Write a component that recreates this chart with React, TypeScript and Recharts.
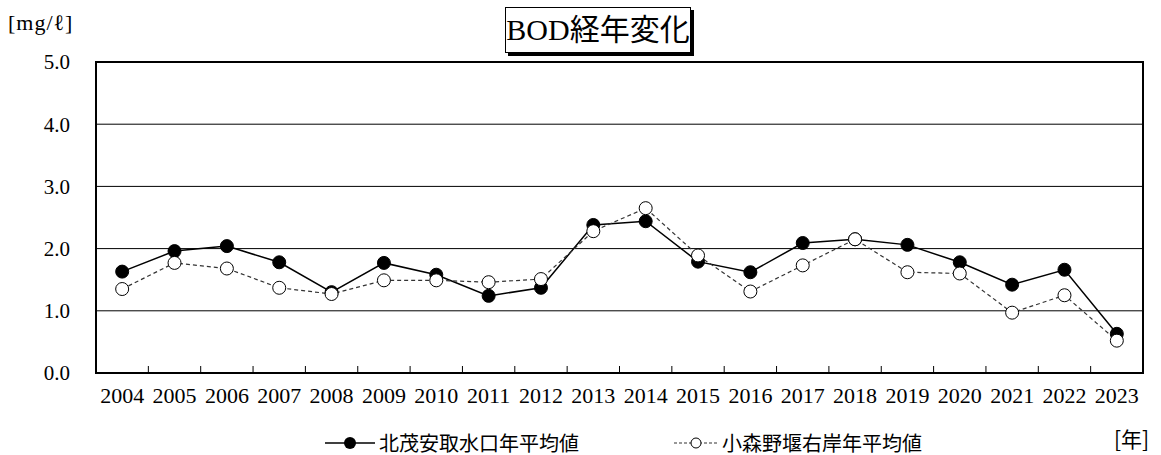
import React from 'react';
import {
  LineChart,
  Line,
  XAxis,
  YAxis,
  CartesianGrid,
  ReferenceArea,
} from 'recharts';

const years = [
  '2004', '2005', '2006', '2007', '2008', '2009', '2010', '2011', '2012', '2013',
  '2014', '2015', '2016', '2017', '2018', '2019', '2020', '2021', '2022', '2023',
];
const kitashigeyasu = [
  1.63, 1.96, 2.04, 1.78, 1.3, 1.77, 1.58, 1.24, 1.37, 2.38,
  2.44, 1.79, 1.62, 2.09, 2.15, 2.06, 1.78, 1.42, 1.66, 0.63,
];
const komorino = [
  1.35, 1.77, 1.68, 1.37, 1.27, 1.49, 1.49, 1.46, 1.51, 2.28,
  2.65, 1.89, 1.31, 1.73, 2.15, 1.62, 1.6, 0.97, 1.25, 0.52,
];
const yTicks = [0, 1, 2, 3, 4, 5];
const seriesNames = ['北茂安取水口年平均値', '小森野堰右岸年平均値'];
const titleText = 'BOD経年変化';
const yUnit = '[mg/ℓ]';
const xUnit = '[年]';

const labelTicks = years.map((_, i) => i + 0.5);
const boundaryTicks = years.slice(1).map((_, i) => i + 1);

const data = years.map((y, i) => ({
  x: i + 0.5,
  year: y,
  a: kitashigeyasu[i],
  b: komorino[i],
}));

const serif = '"Liberation Serif", "Noto Sans CJK JP", serif';
const cjk = '"Noto Sans CJK JP", "Liberation Serif", sans-serif';

export default function App() {
  return (
    <div
      style={{
        position: 'absolute',
        left: 0,
        top: 0,
        width: 1161,
        height: 455,
        background: '#fff',
      }}
    >
      <LineChart
        width={1161}
        height={455}
        data={data}
        margin={{ top: 62, right: 18, bottom: 52, left: 0 }}
      >
        <CartesianGrid horizontal vertical={false} stroke="#000" strokeWidth={1} />
        <XAxis
          xAxisId="ticks"
          type="number"
          dataKey="x"
          domain={[0, 20]}
          ticks={boundaryTicks}
          height={1}
          axisLine={false}
          mirror
          tickSize={7}
          tickLine={{ stroke: '#000', strokeWidth: 1 }}
          tickFormatter={() => ''}
          interval={0}
        />
        <XAxis
          xAxisId="main"
          type="number"
          dataKey="x"
          domain={[0, 20]}
          ticks={labelTicks}
          height={30}
          axisLine={false}
          tickLine={false}
          tickMargin={8}
          interval={0}
          tickFormatter={(v: number) => years[Math.round(v - 0.5)]}
          tick={{ fill: '#000', fontSize: 22, fontFamily: serif }}
        />
        <YAxis
          type="number"
          domain={[0, 5]}
          ticks={yTicks}
          width={96}
          axisLine={false}
          tickLine={false}
          tickMargin={20}
          interval={0}
          tickFormatter={(v: number) => v.toFixed(1)}
          tick={{ fill: '#000', fontSize: 21, fontFamily: serif }}
        />
        <ReferenceArea
          xAxisId="main"
          x1={0}
          x2={20}
          y1={0}
          y2={5}
          fill="none"
          fillOpacity={0}
          stroke="#000"
          strokeWidth={2}
          ifOverflow="visible"
        />
        <Line
          xAxisId="main"
          type="linear"
          dataKey="a"
          stroke="#000"
          strokeWidth={1.5}
          dot={{ r: 6.5, fill: '#000', stroke: '#000', strokeWidth: 1 }}
          isAnimationActive={false}
        />
        <Line
          xAxisId="main"
          type="linear"
          dataKey="b"
          stroke="#333"
          strokeWidth={1.2}
          strokeDasharray="4 3"
          dot={{ r: 6.5, fill: '#fff', stroke: '#000', strokeWidth: 1, strokeDasharray: '' }}
          isAnimationActive={false}
        />
      </LineChart>

      <div
        style={{
          position: 'absolute',
          left: 505,
          top: 7,
          width: 184,
          height: 44,
          border: '1px solid #000',
          boxShadow: '3px 3px 0 #000',
          background: '#fff',
          fontFamily: serif,
          fontSize: 30,
          lineHeight: '44px',
          textAlign: 'center',
          color: '#000',
          whiteSpace: 'nowrap',
        }}
      >
        {titleText}
      </div>

      <div
        style={{
          position: 'absolute',
          left: 8,
          top: 11,
          fontFamily: serif,
          fontSize: 22,
          letterSpacing: 1,
          lineHeight: '24px',
          color: '#000',
          whiteSpace: 'nowrap',
        }}
      >
        {yUnit}
      </div>

      <div
        style={{
          position: 'absolute',
          left: 1114,
          top: 427,
          fontFamily: cjk,
          fontSize: 21,
          lineHeight: '22px',
          color: '#000',
          whiteSpace: 'nowrap',
        }}
      >
        {xUnit}
      </div>

      <div style={{ position: 'absolute', left: 325, top: 433, height: 20, display: 'flex', alignItems: 'center' }}>
        <svg width={50} height={16} style={{ display: 'block' }}>
          <line x1={0} y1={8} x2={50} y2={8} stroke="#000" strokeWidth={1.5} />
          <circle cx={25} cy={8} r={6} fill="#000" />
        </svg>
        <span style={{ marginLeft: 4, fontFamily: cjk, fontSize: 20, lineHeight: '20px', color: '#000', whiteSpace: 'nowrap' }}>
          {seriesNames[0]}
        </span>
      </div>

      <div style={{ position: 'absolute', left: 674, top: 433, height: 20, display: 'flex', alignItems: 'center' }}>
        <svg width={44} height={16} style={{ display: 'block' }}>
          <line x1={0} y1={8} x2={44} y2={8} stroke="#333" strokeWidth={1.2} strokeDasharray="3 2" />
          <circle cx={22} cy={8} r={5} fill="#fff" stroke="#000" strokeWidth={1} />
        </svg>
        <span style={{ marginLeft: 4, fontFamily: cjk, fontSize: 20, lineHeight: '20px', color: '#000', whiteSpace: 'nowrap' }}>
          {seriesNames[1]}
        </span>
      </div>
    </div>
  );
}
